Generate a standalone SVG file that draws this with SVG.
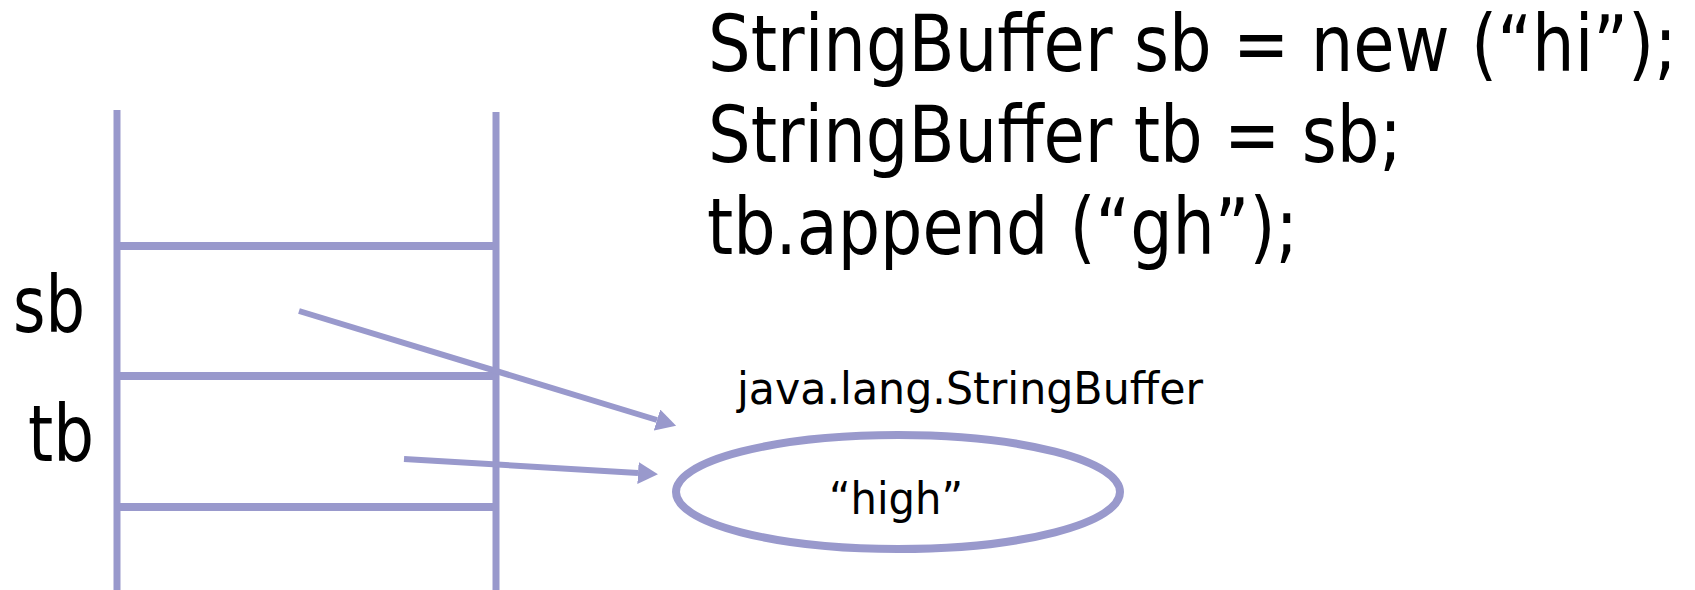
<svg xmlns="http://www.w3.org/2000/svg" width="1695" height="590" viewBox="0 0 1695 590">
  <style>
    .ln { stroke: #9999cc; fill: none; }
    .frame { stroke-width: 7; }
    .slot { stroke-width: 8; }
    .arrow { stroke-width: 6; }
    .txt { font-family: "DejaVu Sans", "Noto Sans", sans-serif; fill: #000; }
    .big { font-size: 78px; }
    .small { font-size: 44px; }
  </style>
  <defs>
    <marker id="head" markerUnits="userSpaceOnUse" markerWidth="20" markerHeight="22" viewBox="0 0 20 22" refX="0" refY="11" orient="auto">
      <path d="M0,0 L20,11 L0,22 z" fill="#9999cc"/>
    </marker>
  </defs>
  <rect width="1695" height="590" fill="#ffffff"/>

  <g id="stack">
    <line class="ln frame" x1="117" y1="110" x2="117" y2="590"/>
    <line class="ln frame" x1="496" y1="112" x2="496" y2="590"/>
    <line class="ln slot" x1="117" y1="246" x2="496" y2="246"/>
    <line class="ln slot" x1="117" y1="376" x2="496" y2="376"/>
    <line class="ln slot" x1="117" y1="507" x2="496" y2="507"/>
  </g>

  <g id="label-sb">
    <text class="txt big" x="13" y="332" textLength="72" lengthAdjust="spacingAndGlyphs">sb</text>
  </g>
  <g id="label-tb">
    <text class="txt big" x="28" y="461" textLength="66" lengthAdjust="spacingAndGlyphs">tb</text>
  </g>

  <g id="code">
    <text class="txt big" x="708" y="71" textLength="969" lengthAdjust="spacingAndGlyphs">StringBuffer sb = new (“hi”);</text>
    <text class="txt big" x="708" y="162" textLength="694" lengthAdjust="spacingAndGlyphs">StringBuffer tb = sb;</text>
    <text class="txt big" x="707" y="254" textLength="591" lengthAdjust="spacingAndGlyphs">tb.append (“gh”);</text>
  </g>

  <g id="object">
    <text class="txt small" x="737" y="404" textLength="466" lengthAdjust="spacingAndGlyphs">java.lang.StringBuffer</text>
    <ellipse class="ln" cx="898" cy="492" rx="222" ry="57" stroke-width="8"/>
    <text class="txt small" x="829" y="514" textLength="134" lengthAdjust="spacingAndGlyphs">“high”</text>
  </g>

  <g id="connectors">
    <line class="ln arrow" x1="299" y1="311" x2="657" y2="420" marker-end="url(#head)"/>
    <line class="ln arrow" x1="404" y1="459" x2="638" y2="473" marker-end="url(#head)"/>
  </g>
</svg>
